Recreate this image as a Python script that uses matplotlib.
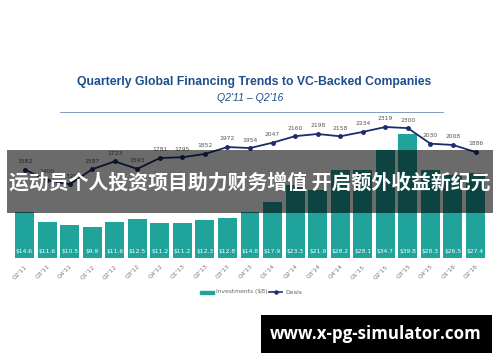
import matplotlib
matplotlib.use("Agg")
import matplotlib.pyplot as plt
from matplotlib.patches import Rectangle
from matplotlib.lines import Line2D

quarters = ["Q2'11", "Q3'11", "Q4'11", "Q1'12", "Q2'12", "Q3'12", "Q4'12", "Q1'13",
            "Q2'13", "Q3'13", "Q4'13", "Q1'14", "Q2'14", "Q3'14", "Q4'14", "Q1'15",
            "Q2'15", "Q3'15", "Q4'15", "Q1'16", "Q2'16"]
investments = [14.6, 11.6, 10.5, 9.9, 11.6, 12.5, 11.2, 11.2, 12.3, 12.8, 14.8, 17.9,
               23.3, 21.9, 28.2, 28.1, 34.7, 39.8, 28.3, 26.5, 27.4]
deals = [1582, 1400, 1326, 1587, 1723, 1593, 1781, 1795, 1852, 1972, 1954, 2047,
         2160, 2198, 2158, 2234, 2319, 2300, 2030, 2008, 1886]

W, H = 500, 362
fig = plt.figure(figsize=(5, 3.62), dpi=100)
fig.patch.set_facecolor("white")

def fy(px):
    return 1 - px / H

teal = "#1fa39b"
navy = "#1b2d6e"

# main axes: px y 100..258
ax = fig.add_axes([0, fy(258), 1, (258 - 100) / H])
x = list(range(len(quarters)))
ax.bar(x, investments, width=0.84, color=teal, zorder=1)
ax.set_xlim(-24.5 / 22.55, (500 - 24.5) / 22.55)
ax.set_ylim(0, 158 / 3.12)
for s in ax.spines.values():
    s.set_visible(False)
ax.set_yticks([])
ax.set_xticks(x)
ax.set_xticklabels(quarters, rotation=45, fontsize=4.3, color="#777777", ha="right",
                   rotation_mode="anchor")
ax.tick_params(axis="x", length=0, pad=4)
for xi, v in zip(x, investments):
    ax.text(xi, 1.3, f"${v}", ha="center", va="bottom", fontsize=4.3, color="white")

ax2 = ax.twinx()
ax2.set_ylim(49, 2787)
ax2.plot(x, deals, color=navy, lw=1.3, marker="o", ms=2.5, zorder=3)
for s in ax2.spines.values():
    s.set_visible(False)
ax2.set_yticks([])
for xi, d in zip(x, deals):
    ax2.annotate(str(d), (xi, d), xytext=(0, 4), textcoords="offset points",
                 ha="center", va="bottom", fontsize=4.3, color="#555555")

# title
fig.text(254 / W, fy(82), "Quarterly Global Financing Trends to VC-Backed Companies",
         ha="center", va="center", fontsize=8.8, fontweight="bold", color="#1f4e8c",
         family="Liberation Sans")
fig.text(250 / W, fy(98), "Q2'11 – Q2'16", ha="center", va="center", fontsize=7.6,
         style="italic", color="#1f4e8c", family="Liberation Sans")
fig.add_artist(Line2D([60 / W, 443 / W], [fy(112), fy(112)], color="#7f9cc0", lw=0.7))

# legend
lx = 200
fig.add_artist(Rectangle((lx / W, fy(293.5)), 14 / W, 3 / H, color=teal,
                         transform=fig.transFigure))
fig.text((lx + 16) / W, fy(292), "Investments ($B)", ha="left", va="center",
         fontsize=4.3, color="#666666")
fig.add_artist(Line2D([269 / W, 282 / W], [fy(292), fy(292)], color=navy, lw=1.2))
fig.add_artist(Line2D([275.5 / W], [fy(292)], color=navy, marker="o", ms=2.2, lw=0))
fig.text(285 / W, fy(292), "Deals", ha="left", va="center", fontsize=4.3,
         color="#666666")

# overlay band
fig.add_artist(Rectangle((7 / W, fy(213)), 486 / W, 63 / H, color="black", alpha=0.58,
                         transform=fig.transFigure, zorder=10, lw=0))
fig.text(250 / W, fy(182), "运动员个人投资项目助力财务增值 开启额外收益新纪元",
         ha="center", va="center", fontsize=14.3, fontweight="bold", color="white",
         family=["Noto Sans CJK SC", "DejaVu Sans"], zorder=11)

# watermark box
fig.add_artist(Rectangle((261 / W, fy(353)), 231 / W, 38 / H, color="black",
                         transform=fig.transFigure, zorder=10, lw=0))
fig.text(376 / W, fy(334), "www.x-pg-simulator.com", ha="center", va="center",
         fontsize=12.2, fontweight="bold", color="white", family="Open Sans", zorder=11)

fig.savefig("out.png", dpi=100)
